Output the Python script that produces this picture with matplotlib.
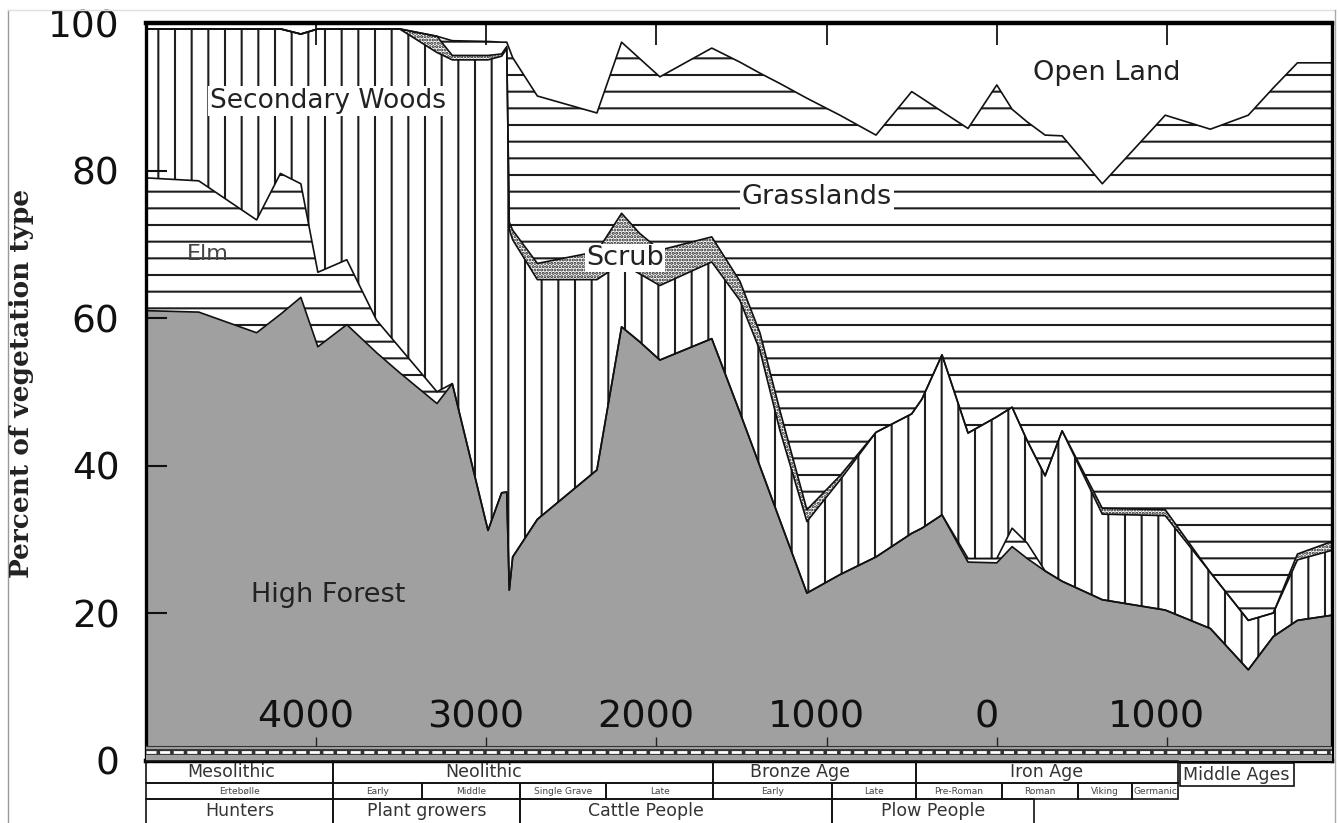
import matplotlib
matplotlib.use('Agg')
import matplotlib.pyplot as plt
from matplotlib.patches import Rectangle
from matplotlib.lines import Line2D
from matplotlib.transforms import blended_transform_factory

plt.rcParams['font.family'] = ['DejaVu Sans']
plt.rcParams['hatch.linewidth'] = 1.5

# ---- data (years: negative = BC) ----
years = [-5000, -4690, -4350, -4210, -4090, -3990, -3820, -3645, -3510, -3290,
         -3200, -2990, -2910, -2880, -2865, -2845, -2700, -2350, -2205, -2100,
         -1980, -1675, -1510, -1392, -1275, -1116, -922, -710, -500, -440,
         -322, -169, 0, 90, 178, 284, 384, 620, 990, 1255,
         1478, 1625, 1767, 1970]

# cumulative upper boundaries (percent of vegetation type)
high_forest_top = [61.0, 60.8, 58.0, 60.5, 62.8, 56.1, 59.1, 55.3, 52.6, 48.4,
                   51.1, 31.2, 36.3, 36.4, 23.1, 27.6, 32.7, 39.4, 58.8, 56.8,
                   54.3, 57.2, 47.2, 39.9, 32.6, 22.7, 25.2, 27.6, 30.8, 31.5,
                   33.3, 26.9, 26.8, 29.0, 27.4, 25.7, 24.3, 21.8, 20.4, 17.9,
                   12.3, 16.8, 19.0, 19.7]
elm_top = [79.0, 78.6, 73.3, 79.6, 78.2, 66.2, 67.9, 59.7, 56.0, 50.0,
           51.1, 31.2, 36.3, 36.4, 23.1, 27.6, 32.7, 39.4, 58.8, 56.8,
           54.3, 57.2, 47.2, 39.9, 32.6, 22.7, 25.2, 27.6, 30.8, 31.5,
           33.3, 27.4, 27.4, 31.5, 29.5, 25.7, 24.3, 21.8, 20.4, 17.9,
           12.3, 16.8, 19.0, 19.7]
secondary_woods_top = [99.2, 99.2, 99.2, 99.2, 98.5, 99.2, 99.2, 99.2, 99.2, 96.0,
                       95.0, 95.0, 95.5, 96.5, 72.0, 70.6, 65.2, 65.2, 67.4, 66.0,
                       64.4, 67.6, 62.4, 55.6, 44.8, 32.4, 38.0, 44.5, 47.0, 49.0,
                       55.0, 44.4, 46.6, 47.9, 43.4, 38.6, 44.7, 33.4, 33.2, 25.5,
                       19.0, 20.0, 27.2, 28.5]
scrub_top = [99.2, 99.2, 99.2, 99.2, 98.5, 99.2, 99.2, 99.2, 99.2, 98.2,
             95.6, 95.6, 95.8, 96.8, 73.0, 71.9, 67.4, 69.0, 74.2, 71.5,
             69.2, 71.0, 65.0, 58.0, 47.5, 34.0, 38.6, 44.5, 47.0, 49.0,
             55.0, 44.4, 46.6, 47.9, 43.4, 38.6, 44.7, 34.2, 34.0, 25.5,
             19.0, 20.0, 28.0, 29.7]
grassland_top = [99.2, 99.2, 99.2, 99.2, 98.5, 99.2, 99.2, 99.2, 99.2, 98.2,
                 97.6, 97.5, 97.4, 97.4, 96.5, 95.3, 90.1, 87.8, 97.4, 95.2,
                 92.7, 96.6, 94.7, 93.2, 91.8, 89.8, 87.5, 84.8, 90.7, 89.8,
                 88.0, 85.7, 91.6, 88.3, 86.6, 84.8, 84.7, 78.2, 87.5, 85.6,
                 87.5, 91.2, 94.6, 94.6]

x_ticks = [-4000, -3000, -2000, -1000, 0, 1000]
x_tick_labels = ['4000', '3000', '2000', '1000', '0', '1000']
y_ticks = [0, 20, 40, 60, 80, 100]

culture_row1 = [('Mesolithic', -5000, -3900), ('Neolithic', -3900, -1665),
                ('Bronze Age', -1665, -475), ('Iron Age', -475, 1065)]
middle_ages = ('Middle Ages', 1075, 1745)
culture_row2 = [('Ertebølle', -5000, -3900), ('Early', -3900, -3380),
                ('Middle', -3380, -2800), ('Single Grave', -2800, -2295),
                ('Late', -2295, -1665), ('Early', -1665, -970),
                ('Late', -970, -475), ('Pre-Roman', -475, 30),
                ('Roman', 30, 480), ('Viking', 480, 795), ('Germanic', 795, 1065)]
culture_row3 = [('Hunters', -5000, -3900), ('Plant growers', -3900, -2800),
                ('Cattle People', -2800, -970), ('Plow People', -970, 220)]

# label shifts inside their cells (pixels, layout only)
label_shift_px = {'Neolithic': -40, 'Cattle People': -30, 'Bronze Age': -15,
                  'Mesolithic': -8}

# ---- figure ----
W, H = 1338, 823
fig = plt.figure(figsize=(W / 100, H / 100), dpi=100)
ax = fig.add_axes([146 / W, 1 - 760.5 / H, (1332 - 146) / W, 737.5 / H])
ax.set_xlim(-5000, 1970)
ax.set_ylim(0, 100)
years_per_px = (1970 - (-5000)) / (1332 - 146)

gray = '#a0a0a0'
hatch_c = '#1e1e1e'
ax.fill_between(years, 0, high_forest_top, facecolor=gray, linewidth=0, zorder=1)
ax.fill_between(years, high_forest_top, elm_top, facecolor='white', hatch='-',
                edgecolor=hatch_c, linewidth=0, zorder=1)
ax.fill_between(years, elm_top, secondary_woods_top, facecolor='white', hatch='|',
                edgecolor=hatch_c, linewidth=0, zorder=1)
ax.fill_between(years, secondary_woods_top, scrub_top, facecolor='white', hatch='.....',
                edgecolor=hatch_c, linewidth=0, zorder=1)
ax.fill_between(years, scrub_top, grassland_top, facecolor='white', hatch='-',
                edgecolor=hatch_c, linewidth=0, zorder=1)
ax.fill_between(years, grassland_top, 100, facecolor='white', linewidth=0, zorder=1)

for b in (high_forest_top, elm_top, secondary_woods_top, scrub_top, grassland_top):
    ax.plot(years, b, color='#111111', linewidth=1.2, zorder=2)

# bottom ruler strip
ax.axhspan(0, 2.0, facecolor=gray, edgecolor='none', zorder=3)
ax.axhline(1.1, color='#333333', linewidth=4.2, zorder=3)
ax.axhline(1.1, color='white', linewidth=2.0, dashes=(3.6, 1.3), zorder=3)
ax.axhline(2.0, color='#333333', linewidth=0.8, zorder=3)
ax.vlines(x_ticks, 2.0, 3.2, color='#222222', linewidth=1.0, zorder=3)

# axes styling
for s in ('top', 'bottom'):
    ax.spines[s].set_linewidth(3.2)
for s in ('left', 'right'):
    ax.spines[s].set_linewidth(2.4)
ax.set_xticks(x_ticks)
ax.tick_params(axis='x', top=True, bottom=False, direction='in', length=16,
               width=1.2, labelbottom=False, labeltop=False)
ax.set_yticks(y_ticks)
ax.tick_params(axis='y', direction='in', length=15, width=1.5, labelsize=27,
               pad=19, colors='#111111')

for t, lab in zip(x_ticks, x_tick_labels):
    ax.text(t - 60, 4.5, lab, ha='center', va='baseline', fontsize=27.5,
            color='#111111', zorder=4)

# region labels
box = dict(facecolor='white', edgecolor='none', pad=1.5)
ax.text(-3928, 89.4, 'Secondary Woods', ha='center', va='center', fontsize=19,
        color='#222222', bbox=box, zorder=4)
ax.text(-4639, 68.7, 'Elm', ha='center', va='center', fontsize=16,
        color='#444444', zorder=4)
ax.text(-3932, 22.4, 'High Forest', ha='center', va='center', fontsize=19.5,
        color='#222222', zorder=4)
ax.text(-1057, 76.4, 'Grasslands', ha='center', va='center', fontsize=19.5,
        color='#222222', bbox=box, zorder=4)
ax.text(-2186, 68.1, 'Scrub', ha='center', va='center', fontsize=19.5,
        color='#222222', bbox=dict(facecolor='white', edgecolor='none', pad=0.5),
        zorder=4)
ax.text(649, 93.2, 'Open Land', ha='center', va='center', fontsize=19.5,
        color='#222222', zorder=4)

fig.text(22 / W, 1 - 383 / H, 'Percent of vegetation type', rotation=90,
         ha='center', va='center', fontsize=19, fontweight='bold',
         family='DejaVu Serif', color='#222222')

# culture table below the axis
trans = blended_transform_factory(ax.transData, ax.transAxes)


def ay(py):
    return (760.5 - py) / 737.5


def draw_row(cells, top, bottom, size, color='#333333', text_py=None):
    for name, x0, x1 in cells:
        ax.add_patch(Rectangle((x0, ay(bottom)), x1 - x0, ay(top) - ay(bottom),
                               transform=trans, fill=False, edgecolor='#111111',
                               linewidth=1.2, clip_on=False, zorder=5))
        ty = ay(text_py) if text_py is not None else (ay(top) + ay(bottom)) / 2
        tx = (x0 + x1) / 2 + label_shift_px.get(name, 0) * years_per_px
        ax.text(tx, ty, name, transform=trans,
                ha='center', va='center', fontsize=size, color=color,
                clip_on=False, zorder=6)


draw_row(culture_row1, 761, 783, 12.5)
draw_row(culture_row2, 783, 799, 6.5, '#444444')
draw_row(culture_row3, 799, 835, 12.5, text_py=811)
draw_row([middle_ages], 763, 786, 12.5)

# screenshot frame lines
fig.add_artist(Line2D([8 / W, 8 / W], [0, 1 - 10 / H], color='#999999', linewidth=1.0))
fig.add_artist(Line2D([8 / W, 1335 / W], [1 - 10 / H, 1 - 10 / H], color='#e0e0e0', linewidth=1.0))
fig.add_artist(Line2D([1335 / W, 1335 / W], [0, 1 - 10 / H], color='#aaaaaa', linewidth=1.0))

fig.savefig('out.png', dpi=100)
